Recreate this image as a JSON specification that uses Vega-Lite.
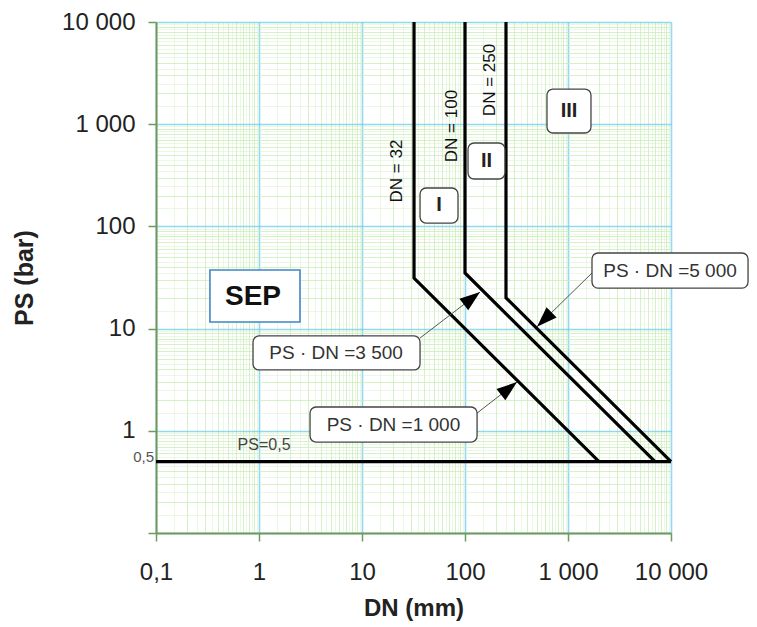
{
  "$schema": "https://vega.github.io/schema/vega-lite/v6.json",
  "width": 515,
  "height": 511,
  "autosize": {"type": "none"},
  "padding": {"left": 156, "top": 22, "right": 86, "bottom": 94},
  "background": "white",
  "config": {"view": {"stroke": null}, "font": "Liberation Sans"},
  "datasets": {
    "lines": [
      {"s": "DN32", "o": 1, "DN": 32, "PS": 10000},
      {"s": "DN32", "o": 2, "DN": 32, "PS": 31.25},
      {"s": "DN32", "o": 3, "DN": 2000, "PS": 0.5},
      {"s": "DN100", "o": 1, "DN": 100, "PS": 10000},
      {"s": "DN100", "o": 2, "DN": 100, "PS": 35},
      {"s": "DN100", "o": 3, "DN": 7000, "PS": 0.5},
      {"s": "DN250", "o": 1, "DN": 250, "PS": 10000},
      {"s": "DN250", "o": 2, "DN": 250, "PS": 20},
      {"s": "DN250", "o": 3, "DN": 10000, "PS": 0.5},
      {"s": "PS05", "o": 1, "DN": 0.1, "PS": 0.5},
      {"s": "PS05", "o": 2, "DN": 10000, "PS": 0.5}
    ],
    "arrows": [
      {"a": "3500", "DN": 140, "PS": 22.8, "DN2": 36.6, "PS2": 8.09},
      {"a": "1000", "DN": 320, "PS": 3.0, "DN2": 131, "PS2": 1.49},
      {"a": "5000", "DN": 500, "PS": 10.4, "DN2": 1710, "PS2": 35.0}
    ],
    "boxes": [
      {"b": "SEP", "DN": 0.334, "DN2": 2.5, "PS": 37.4, "PS2": 11.6, "k": "sep"},
      {"b": "I", "DN": 36.6, "DN2": 85.5, "PS": 237.6, "PS2": 107.9, "k": "box"},
      {"b": "II", "DN": 107, "DN2": 244, "PS": 655, "PS2": 291, "k": "box"},
      {"b": "III", "DN": 625, "DN2": 1671, "PS": 2208, "PS2": 820, "k": "box"},
      {"b": "3500", "DN": 0.875, "DN2": 36.6, "PS": 8.47, "PS2": 3.94, "k": "box"},
      {"b": "1000", "DN": 3.13, "DN2": 131, "PS": 1.71, "PS2": 0.776, "k": "box"},
      {"b": "5000", "DN": 1710, "DN2": 55970, "PS": 54.9, "PS2": 24.9, "k": "box"}
    ],
    "texts": [
      {"t": "DN = 32", "DN": 21.9, "PS": 348, "k": "dn"},
      {"t": "DN = 100", "DN": 74.8, "PS": 960, "k": "dn"},
      {"t": "DN = 250", "DN": 175, "PS": 2707, "k": "dn"},
      {"t": "I", "DN": 55.9, "PS": 161.8, "k": "roman"},
      {"t": "II", "DN": 162, "PS": 436, "k": "roman"},
      {"t": "III", "DN": 1023, "PS": 1346, "k": "roman"},
      {"t": "PS · DN =3 500", "DN": 5.6, "PS": 5.77, "k": "formula"},
      {"t": "PS · DN =1 000", "DN": 20.2, "PS": 1.152, "k": "formula"},
      {"t": "PS · DN =5 000", "DN": 9780, "PS": 37.0, "k": "formula"},
      {"t": "SEP", "DN": 0.875, "PS": 20.4, "k": "sep"},
      {"t": "PS=0,5", "DN": 1.12, "PS": 0.726, "k": "ps"},
      {"t": "0,5", "DN": 0.1, "PS": 0.5, "k": "axis"}
    ]
  },
  "encoding": {
    "x": {
      "field": "DN", "type": "quantitative", "title": "DN (mm)",
      "scale": {"type": "log", "domain": [0.1, 10000]},
      "axis": {
        "values": [0.1,0.15,0.2,0.25,0.3,0.35,0.4,0.45,0.5,0.55,0.6,0.65,0.7,0.75,0.8,0.85,0.9,0.95,1,1.5,2,2.5,3,3.5,4,4.5,5,5.5,6,6.5,7,7.5,8,8.5,9,9.5,10,15,20,25,30,35,40,45,50,55,60,65,70,75,80,85,90,95,100,150,200,250,300,350,400,450,500,550,600,650,700,750,800,850,900,950,1000,1500,2000,2500,3000,3500,4000,4500,5000,5500,6000,6500,7000,7500,8000,8500,9000,9500,10000],
        "labelExpr": "datum.value == 0.1 ? '0,1' : datum.value == 1 ? '1' : datum.value == 10 ? '10' : datum.value == 100 ? '100' : datum.value == 1000 ? '1 000' : datum.value == 10000 ? '10 000' : ''",
        "labelOverlap": false, "labelBound": false, "labelFlush": false,
        "labelFont": "Liberation Sans", "labelFontSize": 24, "labelColor": "#222", "labelPadding": 19,
        "grid": true,
        "gridColor": {"condition": {"test": "abs(log(datum.value)/LN10 - round(log(datum.value)/LN10)) < 1e-6", "value": "#6fcbec"}, "value": "#c8ecb6"},
        "gridWidth": {"condition": {"test": "abs(log(datum.value)/LN10 - round(log(datum.value)/LN10)) < 1e-6", "value": 1.6}, "value": 1},
        "gridOpacity": {"condition": {"test": "abs(datum.value/pow(10, floor(log(datum.value)/LN10 + 1e-9)) - round(datum.value/pow(10, floor(log(datum.value)/LN10 + 1e-9)))) < 1e-6", "value": 0.75}, "value": 0.35},
        "ticks": true, "tickSize": 8, "tickColor": "#6f9a5c", "tickWidth": 1.5,
        "tickOpacity": {"condition": {"test": "abs(log(datum.value)/LN10 - round(log(datum.value)/LN10)) < 1e-6", "value": 1}, "value": 0},
        "domainColor": "#6f9a5c", "domainWidth": 2,
        "titleFont": "Liberation Sans", "titleFontSize": 24, "titleFontWeight": "bold", "titleColor": "#222", "titlePadding": 12
      }
    },
    "y": {
      "field": "PS", "type": "quantitative", "title": "PS (bar)",
      "scale": {"type": "log", "domain": [0.1, 10000]},
      "axis": {
        "values": [0.1,0.15,0.2,0.25,0.3,0.35,0.4,0.45,0.5,0.55,0.6,0.65,0.7,0.75,0.8,0.85,0.9,0.95,1,1.5,2,2.5,3,3.5,4,4.5,5,5.5,6,6.5,7,7.5,8,8.5,9,9.5,10,15,20,25,30,35,40,45,50,55,60,65,70,75,80,85,90,95,100,150,200,250,300,350,400,450,500,550,600,650,700,750,800,850,900,950,1000,1500,2000,2500,3000,3500,4000,4500,5000,5500,6000,6500,7000,7500,8000,8500,9000,9500,10000],
        "labelExpr": "datum.value == 1 ? '1' : datum.value == 10 ? '10' : datum.value == 100 ? '100' : datum.value == 1000 ? '1 000' : datum.value == 10000 ? '10 000' : ''",
        "labelOverlap": false, "labelBound": false, "labelFlush": false,
        "labelFont": "Liberation Sans", "labelFontSize": 24, "labelColor": "#222", "labelPadding": 13,
        "grid": true,
        "gridColor": {"condition": {"test": "abs(log(datum.value)/LN10 - round(log(datum.value)/LN10)) < 1e-6", "value": "#6fcbec"}, "value": "#c8ecb6"},
        "gridWidth": {"condition": {"test": "abs(log(datum.value)/LN10 - round(log(datum.value)/LN10)) < 1e-6", "value": 1.6}, "value": 1},
        "gridOpacity": {"condition": {"test": "abs(datum.value/pow(10, floor(log(datum.value)/LN10 + 1e-9)) - round(datum.value/pow(10, floor(log(datum.value)/LN10 + 1e-9)))) < 1e-6", "value": 0.75}, "value": 0.35},
        "ticks": true, "tickSize": 8, "tickColor": "#6f9a5c", "tickWidth": 1.5,
        "tickOpacity": {"condition": {"test": "abs(log(datum.value)/LN10 - round(log(datum.value)/LN10)) < 1e-6", "value": 1}, "value": 0},
        "domainColor": "#6f9a5c", "domainWidth": 2,
        "titleFont": "Liberation Sans", "titleFontSize": 25, "titleFontWeight": "bold", "titleColor": "#222", "titlePadding": 24
      }
    }
  },
  "layer": [
    {
      "data": {"name": "lines"},
      "mark": {"type": "line", "color": "black", "strokeWidth": 3.2, "strokeJoin": "miter", "strokeCap": "butt", "clip": false},
      "encoding": {"detail": {"field": "s"}, "order": {"field": "o", "type": "quantitative"}}
    },
    {
      "data": {"name": "arrows"},
      "mark": {"type": "rule", "color": "#555", "strokeWidth": 1},
      "encoding": {"x2": {"field": "DN2"}, "y2": {"field": "PS2"}}
    },
    {
      "data": {"name": "arrows"},
      "transform": [{"calculate": "atan2(log(datum.DN/datum.DN2), log(datum.PS/datum.PS2)) * 180 / PI", "as": "ang"}],
      "mark": {"type": "point", "shape": "M0,0L-0.7,2L0.7,2Z", "filled": true, "color": "black", "size": 420, "opacity": 1},
      "encoding": {
        "angle": {"field": "ang", "type": "quantitative", "scale": null}
      }
    },
    {
      "data": {"name": "boxes"},
      "transform": [{"filter": "datum.k == 'box'"}],
      "mark": {"type": "rect", "fill": "white", "stroke": "#444", "strokeWidth": 1.3, "cornerRadius": 6},
      "encoding": {"x2": {"field": "DN2"}, "y2": {"field": "PS2"}}
    },
    {
      "data": {"name": "boxes"},
      "transform": [{"filter": "datum.k == 'sep'"}],
      "mark": {"type": "rect", "fill": "white", "stroke": "#3f86c6", "strokeWidth": 1.6},
      "encoding": {"x2": {"field": "DN2"}, "y2": {"field": "PS2"}}
    },
    {
      "data": {"name": "texts"},
      "transform": [{"filter": "datum.k == 'dn'"}],
      "mark": {"type": "text", "angle": 270, "font": "Liberation Sans", "fontSize": 17, "color": "#111", "align": "center", "baseline": "middle"},
      "encoding": {"text": {"field": "t"}}
    },
    {
      "data": {"name": "texts"},
      "transform": [{"filter": "datum.k == 'roman'"}],
      "mark": {"type": "text", "font": "Liberation Sans", "fontSize": 20, "fontWeight": "bold", "color": "#222", "align": "center", "baseline": "middle"},
      "encoding": {"text": {"field": "t"}}
    },
    {
      "data": {"name": "texts"},
      "transform": [{"filter": "datum.k == 'formula'"}],
      "mark": {"type": "text", "font": "Liberation Sans", "fontSize": 19, "color": "#333", "align": "center", "baseline": "middle"},
      "encoding": {"text": {"field": "t"}}
    },
    {
      "data": {"name": "texts"},
      "transform": [{"filter": "datum.k == 'sep'"}],
      "mark": {"type": "text", "font": "Liberation Sans", "fontSize": 28, "fontWeight": "bold", "color": "#111", "align": "center", "baseline": "middle"},
      "encoding": {"text": {"field": "t"}}
    },
    {
      "data": {"name": "texts"},
      "transform": [{"filter": "datum.k == 'ps'"}],
      "mark": {"type": "text", "font": "Liberation Sans", "fontSize": 16, "color": "#444", "align": "center", "baseline": "middle"},
      "encoding": {"text": {"field": "t"}}
    },
    {
      "data": {"name": "texts"},
      "transform": [{"filter": "datum.k == 'axis'"}],
      "mark": {"type": "text", "font": "Liberation Sans", "fontSize": 15, "color": "#555", "align": "right", "baseline": "alphabetic", "dx": -2},
      "encoding": {"text": {"field": "t"}}
    }
  ]
}
